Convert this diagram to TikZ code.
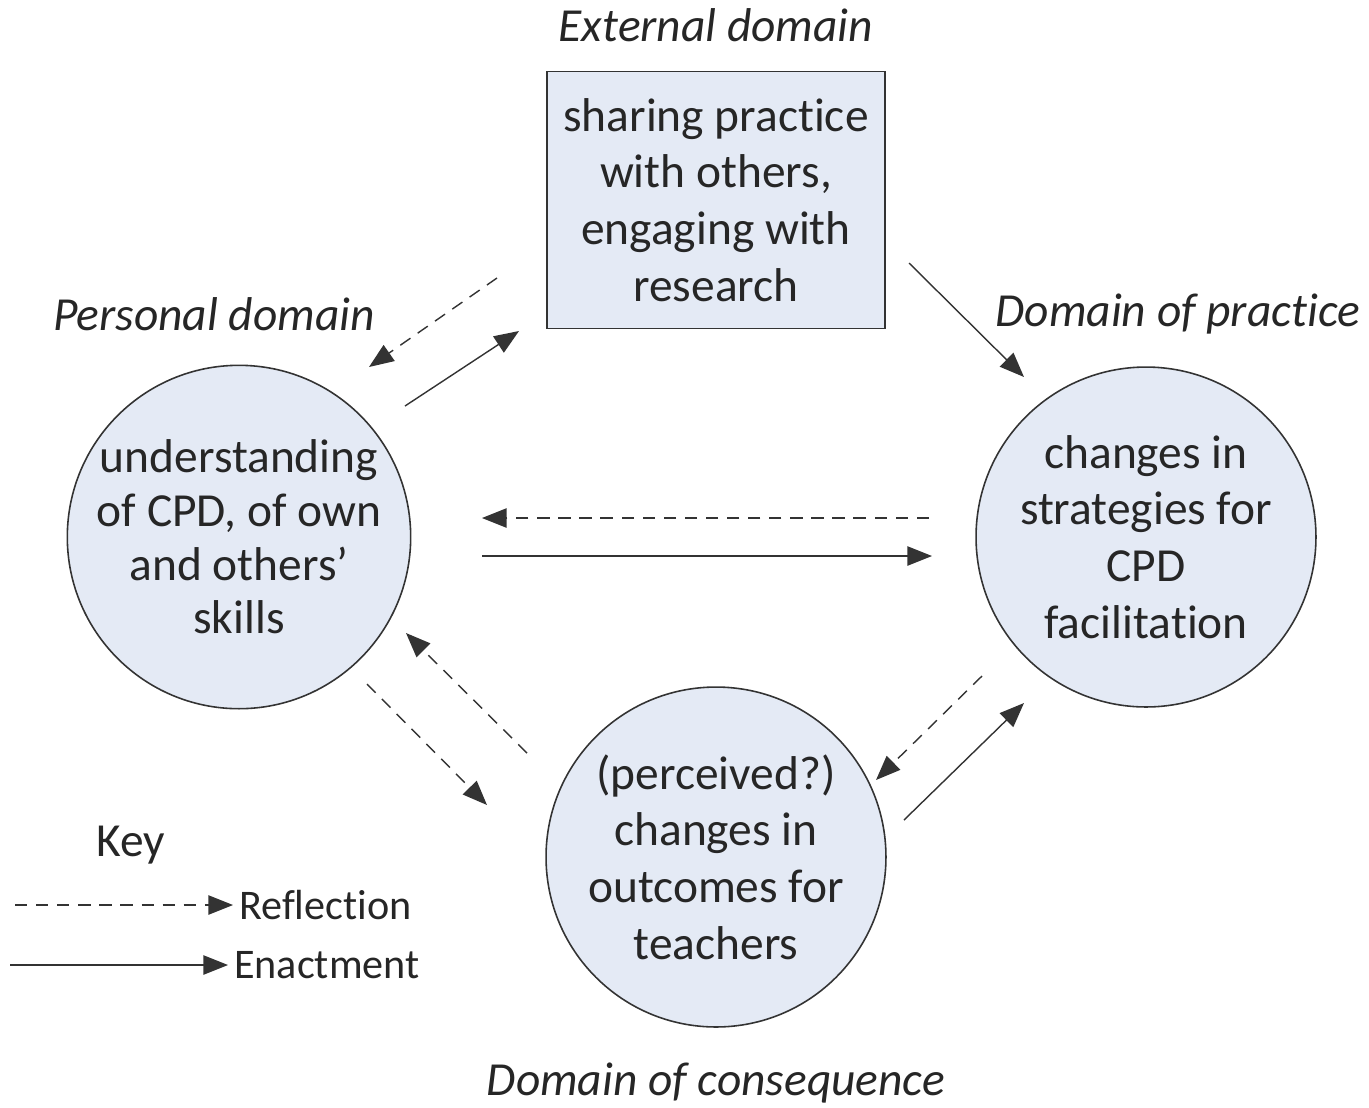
\documentclass[tikz,border=0pt]{standalone}
\usepackage{fontspec}
\setmainfont[RawFeature={-liga;-clig;-calt;-dlig}]{Carlito}
\usetikzlibrary{arrows.meta}
\definecolor{nodefill}{HTML}{E4EAF5}
\tikzset{
  body/.style={font=\fontsize{27}{32.3}\selectfont, align=center, text=black!85},
  dom/.style={font=\fontsize{27}{32}\selectfont\itshape, text=black!85},
  circ/.style={body, circle, draw=black!80, line width=0.9pt, fill=nodefill, minimum size=6.8cm, inner sep=0pt},
  rbox/.style={body, rectangle, draw=black!80, line width=0.9pt, fill=nodefill, minimum width=6.76cm, minimum height=5.14cm, inner sep=0pt},
  enact/.style={line width=0.8pt, draw=black!80, -{Triangle[length=14pt,width=11pt]}},
  refl/.style={enact, dash pattern=on 7pt off 5pt},
  keytxt/.style={font=\fontsize{24}{28}\selectfont, text=black!85, anchor=west}
}
\begin{document}
\begin{tikzpicture}[x=0.02cm,y=-0.02cm]
\useasboundingbox (0,0) rectangle (1369,1107);
% nodes
\node[rbox] (ext) at (716,200) {sharing practice\\with others,\\engaging with\\research};
\node[circ, font=\fontsize{27}{30.6}\selectfont] (pers) at (239,537) {understanding\\of CPD, of own\\and others'\\skills};
\node[circ] (prac) at (1146,537) {changes in\\strategies for\\CPD\\facilit\kern0pt ation};
\node[circ] (cons) at (716,857) {(perceived?)\\changes in\\outcomes for\\teachers};
% domain labels
\node[dom] (extlab) at (716,25) {External domain};
\node[dom] (perslab) at (214,314) {Personal domain};
\node[dom] (praclab) at (1178,314) {Domain of practice};
\node[dom] (conslab) at (716,1083) {Domain of consequence};
% arrow endpoints
\coordinate (a1s) at (909,263); \coordinate (a1e) at (1024,377);
\coordinate (a2s) at (497,278); \coordinate (a2e) at (369,367);
\coordinate (a3s) at (405,406); \coordinate (a3e) at (519,331);
\coordinate (a4s) at (929,518); \coordinate (a4e) at (482,518);
\coordinate (a5s) at (482,556); \coordinate (a5e) at (932,556);
\coordinate (a6s) at (527,753); \coordinate (a6e) at (406,633);
\coordinate (a7s) at (367,684); \coordinate (a7e) at (487,805);
\coordinate (a8s) at (982,676); \coordinate (a8e) at (876,780);
\coordinate (a9s) at (904,820); \coordinate (a9e) at (1024,703);
\draw[enact] (a1s) -- (a1e);
\draw[refl] (a2s) -- (a2e);
\draw[enact] (a3s) -- (a3e);
\draw[refl] (a4s) -- (a4e);
\draw[enact] (a5s) -- (a5e);
\draw[refl] (a6s) -- (a6e);
\draw[refl] (a7s) -- (a7e);
\draw[refl] (a8s) -- (a8e);
\draw[enact] (a9s) -- (a9e);
% key
\node[font=\fontsize{27}{32}\selectfont, text=black!85] (key) at (131,845) {Key};
\node[keytxt] (reflt) at (233,905) {Reflection};
\node[keytxt] (enactt) at (228,965) {Enactment};
\coordinate (k1) at (15,905); \coordinate (k2) at (10,965);
\draw[refl] (k1) -- (reflt.west);
\draw[enact] (k2) -- (enactt.west);
\end{tikzpicture}
\end{document}
